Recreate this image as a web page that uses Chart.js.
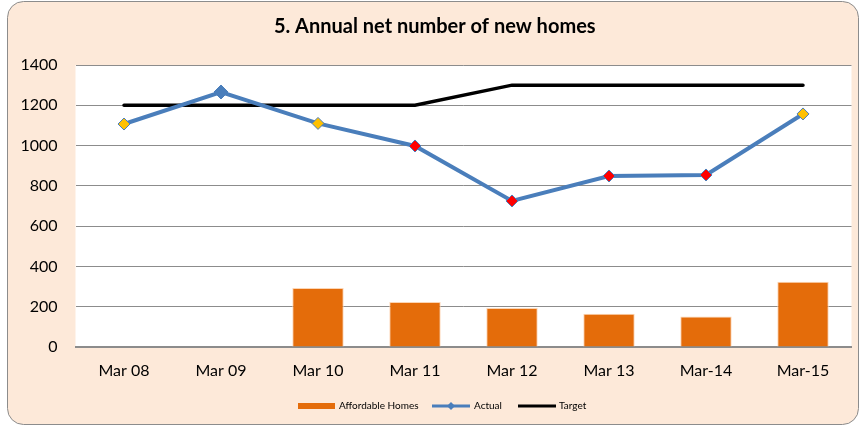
<!DOCTYPE html>
<html>
<head>
<meta charset="utf-8">
<script src="https://cdn.jsdelivr.net/npm/chart.js@4"></script>
<style>
  html, body { margin: 0; padding: 0; background: #fff; }
  #wrap { width: 861px; height: 428px; }
</style>
</head>
<body>
<div id="wrap"><canvas id="c" width="861" height="428"></canvas></div>
<script>
// данные графика
const labels = ['Mar 08', 'Mar 09', 'Mar 10', 'Mar 11', 'Mar 12', 'Mar 13', 'Mar-14', 'Mar-15'];
const affordable = [null, null, 293, 223, 194, 165, 152, 324];
const actual = [1107, 1266, 1110, 998, 725, 849, 854, 1157];
const target = [1200, 1200, 1200, 1200, 1300, 1300, 1300, 1300];
const markerColors = ['#FFC000', '#4A7EBB', '#FFC000', '#FF0000', '#FF0000', '#FF0000', '#FF0000', '#FFC000'];

const FONT = 'Lato, "Open Sans", sans-serif';
Chart.defaults.font.family = FONT;
Chart.defaults.color = '#000';

// фон: скруглённая рамка + белая область построения
const frame = {
    id: 'frame',
    beforeDraw(chart) {
        const ctx = chart.ctx;
        const a = chart.chartArea;
        ctx.save();
        ctx.fillStyle = '#fff';
        ctx.fillRect(0, 0, chart.width, chart.height);
        ctx.beginPath();
        ctx.roundRect(7.5, 1.5, 851, 423, 16);
        ctx.fillStyle = '#FDE9D9';
        ctx.fill();
        ctx.strokeStyle = '#8c8c8c';
        ctx.lineWidth = 1;
        ctx.stroke();
        ctx.fillStyle = '#fff';
        ctx.fillRect(a.left, a.top, a.right - a.left, a.bottom - a.top);
        ctx.restore();
    }
};

// легенда как в Excel
const excelLegend = {
    id: 'excelLegend',
    afterDraw(chart) {
        const ctx = chart.ctx;
        const y = 406;
        ctx.save();
        ctx.font = '10px ' + FONT;
        ctx.textBaseline = 'middle';

        ctx.fillStyle = '#E46C0A';
        ctx.fillRect(298, y - 3, 37, 6);
        ctx.fillStyle = '#000';
        ctx.fillText('Affordable Homes', 339, y);

        ctx.strokeStyle = '#4A7EBB';
        ctx.lineWidth = 3;
        ctx.beginPath(); ctx.moveTo(432, y); ctx.lineTo(470, y); ctx.stroke();
        ctx.fillStyle = '#4A7EBB';
        ctx.beginPath();
        ctx.moveTo(451, y - 4); ctx.lineTo(455, y); ctx.lineTo(451, y + 4); ctx.lineTo(447, y);
        ctx.closePath(); ctx.fill();
        ctx.fillStyle = '#000';
        ctx.fillText('Actual', 474, y);

        ctx.strokeStyle = '#000';
        ctx.lineWidth = 3;
        ctx.beginPath(); ctx.moveTo(518, y); ctx.lineTo(556, y); ctx.stroke();
        ctx.fillText('Target', 559, y);
        ctx.restore();
    }
};

new Chart(document.getElementById('c'), {
    type: 'bar',
    data: {
        labels: labels,
        datasets: [{
            type: 'line',
            label: 'Actual',
            data: actual,
            borderColor: '#4A7EBB',
            borderWidth: 4,
            pointStyle: 'rectRot',
            pointRadius: markerColors.map(c => c === '#4A7EBB' ? 7 : 6),
            pointBackgroundColor: markerColors,
            pointBorderColor: '#4A7EBB',
            pointBorderWidth: 1,
            tension: 0,
            order: 1
        }, {
            type: 'line',
            label: 'Target',
            data: target,
            borderColor: '#000',
            borderWidth: 3.5,
            borderCapStyle: 'round',
            pointRadius: 0,
            tension: 0,
            order: 2
        }, {
            label: 'Affordable Homes',
            data: affordable,
            backgroundColor: '#E46C0A',
            borderColor: '#FCD5B4',
            borderWidth: { top: 1, left: 1, right: 1, bottom: 0 },
            categoryPercentage: 1,
            barPercentage: 0.53,
            order: 3
        }]
    },
    options: {
        responsive: false,
        animation: false,
        layout: { padding: { left: 18, right: 9.5, top: 0, bottom: 45 } },
        plugins: {
            legend: { display: false },
            tooltip: { enabled: false },
            title: {
                display: true,
                text: '5. Annual net number of new homes',
                color: '#000',
                font: { size: 20, weight: 'bold', family: FONT },
                padding: { top: 15, bottom: 26 }
            }
        },
        scales: {
            x: {
                grid: { display: false, drawTicks: false },
                border: { color: '#8c8c8c', width: 2 },
                ticks: { padding: 14, font: { size: 16 } },
                afterFit(s) { s.height = 36; }
            },
            y: {
                min: 0,
                max: 1400,
                ticks: { stepSize: 200, padding: 18, font: { size: 16 }, callback: v => String(v) },
                grid: { color: '#8c8c8c', drawTicks: false },
                border: { display: false },
                afterFit(s) { s.width = 57.5; }
            }
        }
    },
    plugins: [frame, excelLegend]
});
</script>
</body>
</html>
